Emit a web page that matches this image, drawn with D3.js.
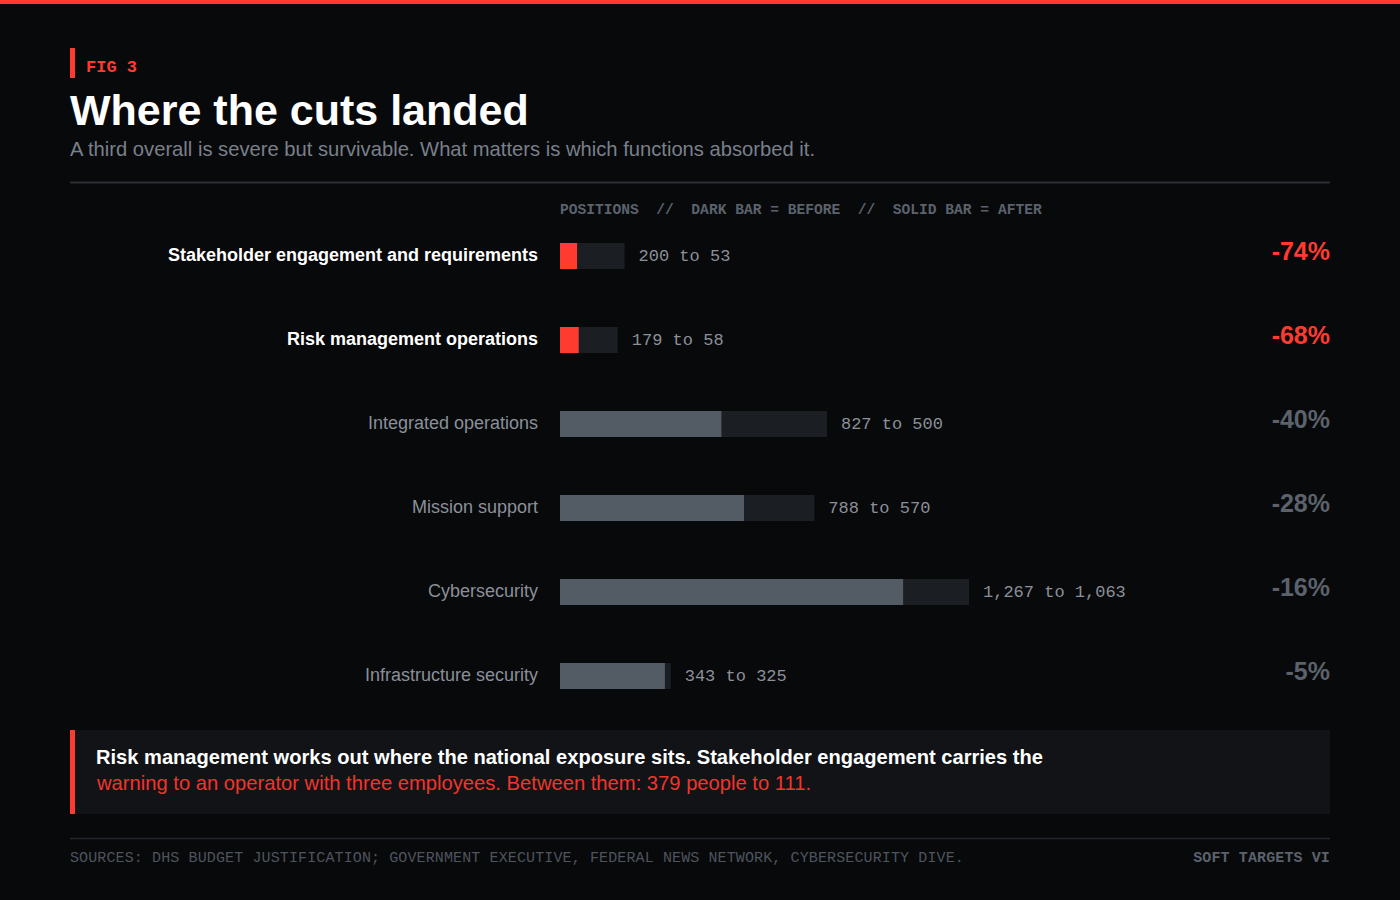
<!DOCTYPE html>
<html>
<head>
<meta charset="utf-8">
<script src="https://cdn.jsdelivr.net/npm/d3@7"></script>
<style>
  body { margin: 0; background: #08090b; }
  svg { display: block; }
</style>
</head>
<body>
<script>
// data
var functions = ["Stakeholder engagement and requirements", "Risk management operations",
    "Integrated operations", "Mission support", "Cybersecurity", "Infrastructure security"];
var before = [200, 179, 827, 788, 1267, 343];
var after = [53, 58, 500, 570, 1063, 325];
var changeLabels = ["-74%", "-68%", "-40%", "-28%", "-16%", "-5%"];
var highlighted = [true, true, false, false, false, false];

var width = 1400, height = 900;
var red = "#ff3b30";
var sans = "'Liberation Sans', Arial, sans-serif";
var mono = "'Liberation Mono', 'Courier New', monospace";

var rows = functions.map(function (d, i) {
    return { name: d, before: before[i], after: after[i], change: changeLabels[i], hot: highlighted[i] };
});

var svg = d3.select("body").append("svg")
    .attr("width", width)
    .attr("height", height);

svg.append("rect").attr("width", width).attr("height", height).attr("fill", "#08090b");
svg.append("rect").attr("width", width).attr("height", 4).attr("fill", red);

// header
svg.append("rect").attr("x", 70).attr("y", 48).attr("width", 5).attr("height", 30).attr("fill", red);
svg.append("text")
    .attr("x", 86).attr("y", 72)
    .style("font-family", mono).style("font-size", "17px").style("font-weight", "bold")
    .attr("fill", red)
    .text("FIG 3");
svg.append("text")
    .attr("x", 70).attr("y", 125)
    .style("font-family", sans).style("font-size", "43px").style("font-weight", "bold")
    .attr("fill", "#ffffff")
    .text("Where the cuts landed");
svg.append("text")
    .attr("x", 70).attr("y", 156)
    .style("font-family", sans).style("font-size", "20.2px")
    .attr("fill", "#7a808a")
    .text("A third overall is severe but survivable. What matters is which functions absorbed it.");
svg.append("line")
    .attr("x1", 70).attr("x2", 1330).attr("y1", 182.5).attr("y2", 182.5)
    .attr("stroke", "#2a2e35").attr("stroke-width", 2);

svg.append("text")
    .attr("x", 560).attr("y", 214)
    .style("font-family", mono).style("font-size", "14.6px").style("font-weight", "bold")
    .style("white-space", "pre")
    .attr("fill", "#5b626c")
    .text("POSITIONS  //  DARK BAR = BEFORE  //  SOLID BAR = AFTER");

// scales
var x = d3.scaleLinear().domain([0, d3.max(before)]).range([0, 409]);
var y = d3.scaleBand().domain(functions).range([214, 718]).paddingInner(0.69).paddingOuter(0.345);

var g = svg.append("g").attr("transform", "translate(560,0)");

var row = g.selectAll(".row").data(rows).enter().append("g").attr("class", "row");

row.append("rect")
    .attr("x", 0)
    .attr("y", function (d) { return y(d.name); })
    .attr("width", function (d) { return x(d.before); })
    .attr("height", y.bandwidth())
    .attr("fill", "#1b1e23");

row.append("rect")
    .attr("x", 0)
    .attr("y", function (d) { return y(d.name); })
    .attr("width", function (d) { return x(d.after); })
    .attr("height", y.bandwidth())
    .attr("fill", function (d) { return d.hot ? red : "#535b64"; });

row.append("text")
    .attr("x", function (d) { return x(d.before) + 14; })
    .attr("y", function (d) { return y(d.name) + y.bandwidth() / 2 + 5; })
    .style("font-family", mono).style("font-size", "17px")
    .attr("fill", "#8b9099")
    .text(function (d) { return d3.format(",")(d.before) + " to " + d3.format(",")(d.after); });

row.append("text")
    .attr("x", -22)
    .attr("y", function (d) { return y(d.name) + y.bandwidth() / 2 + 4.5; })
    .attr("text-anchor", "end")
    .style("font-family", sans).style("font-size", "18px")
    .style("font-weight", function (d) { return d.hot ? "bold" : "normal"; })
    .attr("fill", function (d) { return d.hot ? "#ffffff" : "#8a9099"; })
    .text(function (d) { return d.name; });

row.append("text")
    .attr("x", 1330 - 560)
    .attr("y", function (d) { return y(d.name) + y.bandwidth() / 2 + 4; })
    .attr("text-anchor", "end")
    .style("font-family", sans).style("font-size", "25px").style("font-weight", "bold")
    .attr("fill", function (d) { return d.hot ? red : "#5b626b"; })
    .text(function (d) { return d.change; });

// callout
svg.append("rect").attr("x", 70).attr("y", 730).attr("width", 1260).attr("height", 84).attr("fill", "#111317");
svg.append("rect").attr("x", 70).attr("y", 730).attr("width", 5).attr("height", 84).attr("fill", red);
svg.append("text")
    .attr("x", 96).attr("y", 764)
    .style("font-family", sans).style("font-size", "20.1px").style("font-weight", "bold")
    .attr("fill", "#ffffff")
    .text("Risk management works out where the national exposure sits. Stakeholder engagement carries the");
svg.append("text")
    .attr("x", 97).attr("y", 790)
    .style("font-family", sans).style("font-size", "20.2px")
    .attr("fill", "#f0352b")
    .text("warning to an operator with three employees. Between them: 379 people to 111.");

// footer
svg.append("line")
    .attr("x1", 70).attr("x2", 1330).attr("y1", 838.5).attr("y2", 838.5)
    .attr("stroke", "#24272d").attr("stroke-width", 1.5);
svg.append("text")
    .attr("x", 70).attr("y", 862)
    .style("font-family", mono).style("font-size", "15px")
    .style("letter-spacing", "0.12px")
    .attr("fill", "#4e545d")
    .text("SOURCES: DHS BUDGET JUSTIFICATION; GOVERNMENT EXECUTIVE, FEDERAL NEWS NETWORK, CYBERSECURITY DIVE.");
svg.append("text")
    .attr("x", 1330).attr("y", 862)
    .attr("text-anchor", "end")
    .style("font-family", mono).style("font-size", "15px").style("font-weight", "bold")
    .style("letter-spacing", "0.12px")
    .attr("fill", "#5b626c")
    .text("SOFT TARGETS VI");
</script>
</body>
</html>
